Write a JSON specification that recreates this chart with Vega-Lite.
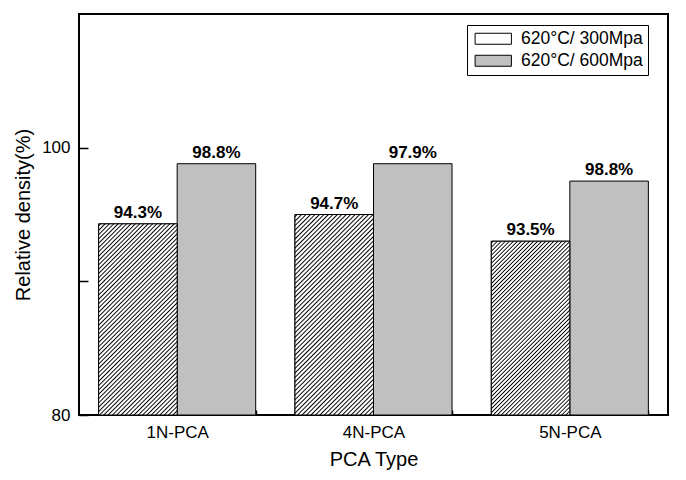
{
  "$schema": "https://vega.github.io/schema/vega-lite/v6.json",
  "autosize": {"type": "none"},
  "width": 589,
  "height": 401,
  "padding": {"left": 79, "top": 14, "right": 18, "bottom": 65},
  "background": "white",
  "data": {
    "values": [
      {"type": "1N-PCA", "condition": "620°C/ 300Mpa", "density": 94.3, "label": "94.3%"},
      {"type": "1N-PCA", "condition": "620°C/ 600Mpa", "density": 98.8, "label": "98.8%"},
      {"type": "4N-PCA", "condition": "620°C/ 300Mpa", "density": 95.0, "label": "94.7%"},
      {"type": "4N-PCA", "condition": "620°C/ 600Mpa", "density": 98.8, "label": "97.9%"},
      {"type": "5N-PCA", "condition": "620°C/ 300Mpa", "density": 93.0, "label": "93.5%"},
      {"type": "5N-PCA", "condition": "620°C/ 600Mpa", "density": 97.5, "label": "98.8%"}
    ]
  },
  "encoding": {
    "x": {
      "field": "type", "type": "nominal", "sort": null,
      "scale": {"paddingInner": 0.2, "paddingOuter": 0.1},
      "axis": {
        "title": "PCA Type", "labelAngle": 0, "tickBand": "extent",
        "tickSize": -5, "tickWidth": 1.5, "labelPadding": 14,
        "labelFontSize": 17, "titleFontSize": 20, "titlePadding": 9
      }
    },
    "xOffset": {"field": "condition", "type": "nominal", "sort": null, "scale": {"domain": ["620°C/ 300Mpa", "620°C/ 600Mpa"]}},
    "y": {
      "field": "density", "type": "quantitative",
      "scale": {"domain": [80, 110], "zero": false, "nice": false},
      "axis": {
        "title": "Relative density(%)",
        "values": [80, 90, 100],
        "labelExpr": "datum.value == 90 ? '' : datum.label",
        "tickSize": -9,
        "tickWidth": 1.5,
        "labelPadding": 18,
        "labelFontSize": 17, "titleFontSize": 20, "titlePadding": 8
      }
    }
  },
  "layer": [
    {
      "mark": {"type": "bar", "stroke": "black", "strokeWidth": 1, "clip": true},
      "encoding": {
        "y2": {"datum": 80},
        "fill": {
          "field": "condition", "type": "nominal", "sort": null,
          "scale": {
            "domain": ["620°C/ 300Mpa", "620°C/ 600Mpa"],
            "range": ["#ffffff", "#c0c0c0"]
          },
          "legend": {
            "title": null,
            "orient": "none",
            "legendX": 388,
            "legendY": 11,
            "strokeColor": "black",
            "padding": 5,
            "fillColor": "white",
            "labelFontSize": 17.5,
            "labelFont": "Liberation Sans",
            "labelColor": "black",
            "symbolOffset": 12.5,
            "labelOffset": 19,
            "rowPadding": 3,
            "symbolType": "M-3.3,-1H3.3V1H-3.3Z",
            "symbolSize": 121,
            "symbolStrokeColor": "black",
            "symbolStrokeWidth": 1,
            "symbolOpacity": 1,
            "encode": {
              "symbols": {
                "update": {
                  "stroke": {"value": "black"},
                  "strokeWidth": {"value": 1},
                  "opacity": {"value": 1},
                  "fillOpacity": {"value": 1}
                }
              }
            }
          }
        }
      }
    },
    {
      "transform": [{"filter": "datum.condition === '620°C/ 300Mpa' && datum.type === '1N-PCA'"}],
      "mark": {"type": "bar", "stroke": "black", "strokeWidth": 1, "clip": true,
        "fill": {"gradient": "linear", "x1": 0, "y1": 0, "x2": 0.4959, "y2": 1.2071, "stops": [
                {"offset": 0, "color": "#fff"},
                {"offset": 0.003, "color": "#fff"},{"offset": 0.008, "color": "#000"},{"offset": 0.013, "color": "#fff"},
                {"offset": 0.019, "color": "#fff"},{"offset": 0.024, "color": "#000"},{"offset": 0.029, "color": "#fff"},
                {"offset": 0.035, "color": "#fff"},{"offset": 0.04, "color": "#000"},{"offset": 0.045, "color": "#fff"},
                {"offset": 0.051, "color": "#fff"},{"offset": 0.056, "color": "#000"},{"offset": 0.061, "color": "#fff"},
                {"offset": 0.067, "color": "#fff"},{"offset": 0.072, "color": "#000"},{"offset": 0.077, "color": "#fff"},
                {"offset": 0.083, "color": "#fff"},{"offset": 0.088, "color": "#000"},{"offset": 0.093, "color": "#fff"},
                {"offset": 0.099, "color": "#fff"},{"offset": 0.104, "color": "#000"},{"offset": 0.109, "color": "#fff"},
                {"offset": 0.115, "color": "#fff"},{"offset": 0.12, "color": "#000"},{"offset": 0.125, "color": "#fff"},
                {"offset": 0.131, "color": "#fff"},{"offset": 0.136, "color": "#000"},{"offset": 0.141, "color": "#fff"},
                {"offset": 0.147, "color": "#fff"},{"offset": 0.152, "color": "#000"},{"offset": 0.157, "color": "#fff"},
                {"offset": 0.163, "color": "#fff"},{"offset": 0.168, "color": "#000"},{"offset": 0.173, "color": "#fff"},
                {"offset": 0.179, "color": "#fff"},{"offset": 0.184, "color": "#000"},{"offset": 0.189, "color": "#fff"},
                {"offset": 0.195, "color": "#fff"},{"offset": 0.2, "color": "#000"},{"offset": 0.205, "color": "#fff"},
                {"offset": 0.211, "color": "#fff"},{"offset": 0.216, "color": "#000"},{"offset": 0.221, "color": "#fff"},
                {"offset": 0.227, "color": "#fff"},{"offset": 0.232, "color": "#000"},{"offset": 0.237, "color": "#fff"},
                {"offset": 0.243, "color": "#fff"},{"offset": 0.248, "color": "#000"},{"offset": 0.253, "color": "#fff"},
                {"offset": 0.259, "color": "#fff"},{"offset": 0.264, "color": "#000"},{"offset": 0.269, "color": "#fff"},
                {"offset": 0.275, "color": "#fff"},{"offset": 0.28, "color": "#000"},{"offset": 0.285, "color": "#fff"},
                {"offset": 0.291, "color": "#fff"},{"offset": 0.296, "color": "#000"},{"offset": 0.301, "color": "#fff"},
                {"offset": 0.307, "color": "#fff"},{"offset": 0.312, "color": "#000"},{"offset": 0.317, "color": "#fff"},
                {"offset": 0.323, "color": "#fff"},{"offset": 0.328, "color": "#000"},{"offset": 0.333, "color": "#fff"},
                {"offset": 0.339, "color": "#fff"},{"offset": 0.344, "color": "#000"},{"offset": 0.349, "color": "#fff"},
                {"offset": 0.355, "color": "#fff"},{"offset": 0.36, "color": "#000"},{"offset": 0.365, "color": "#fff"},
                {"offset": 0.371, "color": "#fff"},{"offset": 0.376, "color": "#000"},{"offset": 0.381, "color": "#fff"},
                {"offset": 0.387, "color": "#fff"},{"offset": 0.392, "color": "#000"},{"offset": 0.397, "color": "#fff"},
                {"offset": 0.403, "color": "#fff"},{"offset": 0.408, "color": "#000"},{"offset": 0.413, "color": "#fff"},
                {"offset": 0.419, "color": "#fff"},{"offset": 0.424, "color": "#000"},{"offset": 0.429, "color": "#fff"},
                {"offset": 0.435, "color": "#fff"},{"offset": 0.44, "color": "#000"},{"offset": 0.445, "color": "#fff"},
                {"offset": 0.451, "color": "#fff"},{"offset": 0.456, "color": "#000"},{"offset": 0.461, "color": "#fff"},
                {"offset": 0.467, "color": "#fff"},{"offset": 0.472, "color": "#000"},{"offset": 0.477, "color": "#fff"},
                {"offset": 0.483, "color": "#fff"},{"offset": 0.488, "color": "#000"},{"offset": 0.493, "color": "#fff"},
                {"offset": 0.499, "color": "#fff"},{"offset": 0.504, "color": "#000"},{"offset": 0.509, "color": "#fff"},
                {"offset": 0.515, "color": "#fff"},{"offset": 0.52, "color": "#000"},{"offset": 0.525, "color": "#fff"},
                {"offset": 0.531, "color": "#fff"},{"offset": 0.536, "color": "#000"},{"offset": 0.541, "color": "#fff"},
                {"offset": 0.547, "color": "#fff"},{"offset": 0.552, "color": "#000"},{"offset": 0.557, "color": "#fff"},
                {"offset": 0.563, "color": "#fff"},{"offset": 0.568, "color": "#000"},{"offset": 0.573, "color": "#fff"},
                {"offset": 0.579, "color": "#fff"},{"offset": 0.584, "color": "#000"},{"offset": 0.589, "color": "#fff"},
                {"offset": 0.595, "color": "#fff"},{"offset": 0.6, "color": "#000"},{"offset": 0.605, "color": "#fff"},
                {"offset": 0.611, "color": "#fff"},{"offset": 0.616, "color": "#000"},{"offset": 0.621, "color": "#fff"},
                {"offset": 0.627, "color": "#fff"},{"offset": 0.632, "color": "#000"},{"offset": 0.637, "color": "#fff"},
                {"offset": 0.643, "color": "#fff"},{"offset": 0.648, "color": "#000"},{"offset": 0.653, "color": "#fff"},
                {"offset": 0.659, "color": "#fff"},{"offset": 0.664, "color": "#000"},{"offset": 0.669, "color": "#fff"},
                {"offset": 0.675, "color": "#fff"},{"offset": 0.68, "color": "#000"},{"offset": 0.685, "color": "#fff"},
                {"offset": 0.691, "color": "#fff"},{"offset": 0.696, "color": "#000"},{"offset": 0.701, "color": "#fff"},
                {"offset": 0.707, "color": "#fff"},{"offset": 0.712, "color": "#000"},{"offset": 0.717, "color": "#fff"},
                {"offset": 0.723, "color": "#fff"},{"offset": 0.728, "color": "#000"},{"offset": 0.733, "color": "#fff"},
                {"offset": 0.739, "color": "#fff"},{"offset": 0.744, "color": "#000"},{"offset": 0.749, "color": "#fff"},
                {"offset": 0.755, "color": "#fff"},{"offset": 0.76, "color": "#000"},{"offset": 0.765, "color": "#fff"},
                {"offset": 0.771, "color": "#fff"},{"offset": 0.776, "color": "#000"},{"offset": 0.781, "color": "#fff"},
                {"offset": 0.787, "color": "#fff"},{"offset": 0.792, "color": "#000"},{"offset": 0.797, "color": "#fff"},
                {"offset": 0.803, "color": "#fff"},{"offset": 0.808, "color": "#000"},{"offset": 0.813, "color": "#fff"},
                {"offset": 0.819, "color": "#fff"},{"offset": 0.824, "color": "#000"},{"offset": 0.829, "color": "#fff"},
                {"offset": 0.835, "color": "#fff"},{"offset": 0.84, "color": "#000"},{"offset": 0.845, "color": "#fff"},
                {"offset": 0.851, "color": "#fff"},{"offset": 0.856, "color": "#000"},{"offset": 0.861, "color": "#fff"},
                {"offset": 0.867, "color": "#fff"},{"offset": 0.872, "color": "#000"},{"offset": 0.877, "color": "#fff"},
                {"offset": 0.883, "color": "#fff"},{"offset": 0.888, "color": "#000"},{"offset": 0.893, "color": "#fff"},
                {"offset": 0.899, "color": "#fff"},{"offset": 0.904, "color": "#000"},{"offset": 0.909, "color": "#fff"},
                {"offset": 0.915, "color": "#fff"},{"offset": 0.92, "color": "#000"},{"offset": 0.925, "color": "#fff"},
                {"offset": 0.931, "color": "#fff"},{"offset": 0.936, "color": "#000"},{"offset": 0.941, "color": "#fff"},
                {"offset": 0.947, "color": "#fff"},{"offset": 0.952, "color": "#000"},{"offset": 0.957, "color": "#fff"},
                {"offset": 0.963, "color": "#fff"},{"offset": 0.968, "color": "#000"},{"offset": 0.973, "color": "#fff"},
                {"offset": 0.979, "color": "#fff"},{"offset": 0.984, "color": "#000"},{"offset": 0.989, "color": "#fff"},
                {"offset": 1, "color": "#fff"}
        ]}
      },
      "encoding": {"y2": {"datum": 80}}
    },
    {
      "transform": [{"filter": "datum.condition === '620°C/ 300Mpa' && datum.type === '4N-PCA'"}],
      "mark": {"type": "bar", "stroke": "black", "strokeWidth": 1, "clip": true,
        "fill": {"gradient": "linear", "x1": 0, "y1": 0, "x2": 0.4724, "y2": 1.2066, "stops": [
                {"offset": 0, "color": "#fff"},
                {"offset": 0.003, "color": "#fff"},{"offset": 0.008, "color": "#000"},{"offset": 0.013, "color": "#fff"},
                {"offset": 0.019, "color": "#fff"},{"offset": 0.024, "color": "#000"},{"offset": 0.029, "color": "#fff"},
                {"offset": 0.035, "color": "#fff"},{"offset": 0.04, "color": "#000"},{"offset": 0.045, "color": "#fff"},
                {"offset": 0.051, "color": "#fff"},{"offset": 0.056, "color": "#000"},{"offset": 0.061, "color": "#fff"},
                {"offset": 0.067, "color": "#fff"},{"offset": 0.072, "color": "#000"},{"offset": 0.077, "color": "#fff"},
                {"offset": 0.083, "color": "#fff"},{"offset": 0.088, "color": "#000"},{"offset": 0.093, "color": "#fff"},
                {"offset": 0.099, "color": "#fff"},{"offset": 0.104, "color": "#000"},{"offset": 0.109, "color": "#fff"},
                {"offset": 0.115, "color": "#fff"},{"offset": 0.12, "color": "#000"},{"offset": 0.125, "color": "#fff"},
                {"offset": 0.131, "color": "#fff"},{"offset": 0.136, "color": "#000"},{"offset": 0.141, "color": "#fff"},
                {"offset": 0.147, "color": "#fff"},{"offset": 0.152, "color": "#000"},{"offset": 0.157, "color": "#fff"},
                {"offset": 0.163, "color": "#fff"},{"offset": 0.168, "color": "#000"},{"offset": 0.173, "color": "#fff"},
                {"offset": 0.179, "color": "#fff"},{"offset": 0.184, "color": "#000"},{"offset": 0.189, "color": "#fff"},
                {"offset": 0.195, "color": "#fff"},{"offset": 0.2, "color": "#000"},{"offset": 0.205, "color": "#fff"},
                {"offset": 0.211, "color": "#fff"},{"offset": 0.216, "color": "#000"},{"offset": 0.221, "color": "#fff"},
                {"offset": 0.227, "color": "#fff"},{"offset": 0.232, "color": "#000"},{"offset": 0.237, "color": "#fff"},
                {"offset": 0.243, "color": "#fff"},{"offset": 0.248, "color": "#000"},{"offset": 0.253, "color": "#fff"},
                {"offset": 0.259, "color": "#fff"},{"offset": 0.264, "color": "#000"},{"offset": 0.269, "color": "#fff"},
                {"offset": 0.275, "color": "#fff"},{"offset": 0.28, "color": "#000"},{"offset": 0.285, "color": "#fff"},
                {"offset": 0.291, "color": "#fff"},{"offset": 0.296, "color": "#000"},{"offset": 0.301, "color": "#fff"},
                {"offset": 0.307, "color": "#fff"},{"offset": 0.312, "color": "#000"},{"offset": 0.317, "color": "#fff"},
                {"offset": 0.323, "color": "#fff"},{"offset": 0.328, "color": "#000"},{"offset": 0.333, "color": "#fff"},
                {"offset": 0.339, "color": "#fff"},{"offset": 0.344, "color": "#000"},{"offset": 0.349, "color": "#fff"},
                {"offset": 0.355, "color": "#fff"},{"offset": 0.36, "color": "#000"},{"offset": 0.365, "color": "#fff"},
                {"offset": 0.371, "color": "#fff"},{"offset": 0.376, "color": "#000"},{"offset": 0.381, "color": "#fff"},
                {"offset": 0.387, "color": "#fff"},{"offset": 0.392, "color": "#000"},{"offset": 0.397, "color": "#fff"},
                {"offset": 0.403, "color": "#fff"},{"offset": 0.408, "color": "#000"},{"offset": 0.413, "color": "#fff"},
                {"offset": 0.419, "color": "#fff"},{"offset": 0.424, "color": "#000"},{"offset": 0.429, "color": "#fff"},
                {"offset": 0.435, "color": "#fff"},{"offset": 0.44, "color": "#000"},{"offset": 0.445, "color": "#fff"},
                {"offset": 0.451, "color": "#fff"},{"offset": 0.456, "color": "#000"},{"offset": 0.461, "color": "#fff"},
                {"offset": 0.467, "color": "#fff"},{"offset": 0.472, "color": "#000"},{"offset": 0.477, "color": "#fff"},
                {"offset": 0.483, "color": "#fff"},{"offset": 0.488, "color": "#000"},{"offset": 0.493, "color": "#fff"},
                {"offset": 0.499, "color": "#fff"},{"offset": 0.504, "color": "#000"},{"offset": 0.509, "color": "#fff"},
                {"offset": 0.515, "color": "#fff"},{"offset": 0.52, "color": "#000"},{"offset": 0.525, "color": "#fff"},
                {"offset": 0.531, "color": "#fff"},{"offset": 0.536, "color": "#000"},{"offset": 0.541, "color": "#fff"},
                {"offset": 0.547, "color": "#fff"},{"offset": 0.552, "color": "#000"},{"offset": 0.557, "color": "#fff"},
                {"offset": 0.563, "color": "#fff"},{"offset": 0.568, "color": "#000"},{"offset": 0.573, "color": "#fff"},
                {"offset": 0.579, "color": "#fff"},{"offset": 0.584, "color": "#000"},{"offset": 0.589, "color": "#fff"},
                {"offset": 0.595, "color": "#fff"},{"offset": 0.6, "color": "#000"},{"offset": 0.605, "color": "#fff"},
                {"offset": 0.611, "color": "#fff"},{"offset": 0.616, "color": "#000"},{"offset": 0.621, "color": "#fff"},
                {"offset": 0.627, "color": "#fff"},{"offset": 0.632, "color": "#000"},{"offset": 0.637, "color": "#fff"},
                {"offset": 0.643, "color": "#fff"},{"offset": 0.648, "color": "#000"},{"offset": 0.653, "color": "#fff"},
                {"offset": 0.659, "color": "#fff"},{"offset": 0.664, "color": "#000"},{"offset": 0.669, "color": "#fff"},
                {"offset": 0.675, "color": "#fff"},{"offset": 0.68, "color": "#000"},{"offset": 0.685, "color": "#fff"},
                {"offset": 0.691, "color": "#fff"},{"offset": 0.696, "color": "#000"},{"offset": 0.701, "color": "#fff"},
                {"offset": 0.707, "color": "#fff"},{"offset": 0.712, "color": "#000"},{"offset": 0.717, "color": "#fff"},
                {"offset": 0.723, "color": "#fff"},{"offset": 0.728, "color": "#000"},{"offset": 0.733, "color": "#fff"},
                {"offset": 0.739, "color": "#fff"},{"offset": 0.744, "color": "#000"},{"offset": 0.749, "color": "#fff"},
                {"offset": 0.755, "color": "#fff"},{"offset": 0.76, "color": "#000"},{"offset": 0.765, "color": "#fff"},
                {"offset": 0.771, "color": "#fff"},{"offset": 0.776, "color": "#000"},{"offset": 0.781, "color": "#fff"},
                {"offset": 0.787, "color": "#fff"},{"offset": 0.792, "color": "#000"},{"offset": 0.797, "color": "#fff"},
                {"offset": 0.803, "color": "#fff"},{"offset": 0.808, "color": "#000"},{"offset": 0.813, "color": "#fff"},
                {"offset": 0.819, "color": "#fff"},{"offset": 0.824, "color": "#000"},{"offset": 0.829, "color": "#fff"},
                {"offset": 0.835, "color": "#fff"},{"offset": 0.84, "color": "#000"},{"offset": 0.845, "color": "#fff"},
                {"offset": 0.851, "color": "#fff"},{"offset": 0.856, "color": "#000"},{"offset": 0.861, "color": "#fff"},
                {"offset": 0.867, "color": "#fff"},{"offset": 0.872, "color": "#000"},{"offset": 0.877, "color": "#fff"},
                {"offset": 0.883, "color": "#fff"},{"offset": 0.888, "color": "#000"},{"offset": 0.893, "color": "#fff"},
                {"offset": 0.899, "color": "#fff"},{"offset": 0.904, "color": "#000"},{"offset": 0.909, "color": "#fff"},
                {"offset": 0.915, "color": "#fff"},{"offset": 0.92, "color": "#000"},{"offset": 0.925, "color": "#fff"},
                {"offset": 0.931, "color": "#fff"},{"offset": 0.936, "color": "#000"},{"offset": 0.941, "color": "#fff"},
                {"offset": 0.947, "color": "#fff"},{"offset": 0.952, "color": "#000"},{"offset": 0.957, "color": "#fff"},
                {"offset": 0.963, "color": "#fff"},{"offset": 0.968, "color": "#000"},{"offset": 0.973, "color": "#fff"},
                {"offset": 0.979, "color": "#fff"},{"offset": 0.984, "color": "#000"},{"offset": 0.989, "color": "#fff"},
                {"offset": 1, "color": "#fff"}
        ]}
      },
      "encoding": {"y2": {"datum": 80}}
    },
    {
      "transform": [{"filter": "datum.condition === '620°C/ 300Mpa' && datum.type === '5N-PCA'"}],
      "mark": {"type": "bar", "stroke": "black", "strokeWidth": 1, "clip": true,
        "fill": {"gradient": "linear", "x1": 0, "y1": 0, "x2": 0.5446, "y2": 1.2057, "stops": [
                {"offset": 0, "color": "#fff"},
                {"offset": 0.003, "color": "#fff"},{"offset": 0.008, "color": "#000"},{"offset": 0.013, "color": "#fff"},
                {"offset": 0.019, "color": "#fff"},{"offset": 0.024, "color": "#000"},{"offset": 0.029, "color": "#fff"},
                {"offset": 0.035, "color": "#fff"},{"offset": 0.04, "color": "#000"},{"offset": 0.045, "color": "#fff"},
                {"offset": 0.051, "color": "#fff"},{"offset": 0.056, "color": "#000"},{"offset": 0.061, "color": "#fff"},
                {"offset": 0.067, "color": "#fff"},{"offset": 0.072, "color": "#000"},{"offset": 0.077, "color": "#fff"},
                {"offset": 0.083, "color": "#fff"},{"offset": 0.088, "color": "#000"},{"offset": 0.093, "color": "#fff"},
                {"offset": 0.099, "color": "#fff"},{"offset": 0.104, "color": "#000"},{"offset": 0.109, "color": "#fff"},
                {"offset": 0.115, "color": "#fff"},{"offset": 0.12, "color": "#000"},{"offset": 0.125, "color": "#fff"},
                {"offset": 0.131, "color": "#fff"},{"offset": 0.136, "color": "#000"},{"offset": 0.141, "color": "#fff"},
                {"offset": 0.147, "color": "#fff"},{"offset": 0.152, "color": "#000"},{"offset": 0.157, "color": "#fff"},
                {"offset": 0.163, "color": "#fff"},{"offset": 0.168, "color": "#000"},{"offset": 0.173, "color": "#fff"},
                {"offset": 0.179, "color": "#fff"},{"offset": 0.184, "color": "#000"},{"offset": 0.189, "color": "#fff"},
                {"offset": 0.195, "color": "#fff"},{"offset": 0.2, "color": "#000"},{"offset": 0.205, "color": "#fff"},
                {"offset": 0.211, "color": "#fff"},{"offset": 0.216, "color": "#000"},{"offset": 0.221, "color": "#fff"},
                {"offset": 0.227, "color": "#fff"},{"offset": 0.232, "color": "#000"},{"offset": 0.237, "color": "#fff"},
                {"offset": 0.243, "color": "#fff"},{"offset": 0.248, "color": "#000"},{"offset": 0.253, "color": "#fff"},
                {"offset": 0.259, "color": "#fff"},{"offset": 0.264, "color": "#000"},{"offset": 0.269, "color": "#fff"},
                {"offset": 0.275, "color": "#fff"},{"offset": 0.28, "color": "#000"},{"offset": 0.285, "color": "#fff"},
                {"offset": 0.291, "color": "#fff"},{"offset": 0.296, "color": "#000"},{"offset": 0.301, "color": "#fff"},
                {"offset": 0.307, "color": "#fff"},{"offset": 0.312, "color": "#000"},{"offset": 0.317, "color": "#fff"},
                {"offset": 0.323, "color": "#fff"},{"offset": 0.328, "color": "#000"},{"offset": 0.333, "color": "#fff"},
                {"offset": 0.339, "color": "#fff"},{"offset": 0.344, "color": "#000"},{"offset": 0.349, "color": "#fff"},
                {"offset": 0.355, "color": "#fff"},{"offset": 0.36, "color": "#000"},{"offset": 0.365, "color": "#fff"},
                {"offset": 0.371, "color": "#fff"},{"offset": 0.376, "color": "#000"},{"offset": 0.381, "color": "#fff"},
                {"offset": 0.387, "color": "#fff"},{"offset": 0.392, "color": "#000"},{"offset": 0.397, "color": "#fff"},
                {"offset": 0.403, "color": "#fff"},{"offset": 0.408, "color": "#000"},{"offset": 0.413, "color": "#fff"},
                {"offset": 0.419, "color": "#fff"},{"offset": 0.424, "color": "#000"},{"offset": 0.429, "color": "#fff"},
                {"offset": 0.435, "color": "#fff"},{"offset": 0.44, "color": "#000"},{"offset": 0.445, "color": "#fff"},
                {"offset": 0.451, "color": "#fff"},{"offset": 0.456, "color": "#000"},{"offset": 0.461, "color": "#fff"},
                {"offset": 0.467, "color": "#fff"},{"offset": 0.472, "color": "#000"},{"offset": 0.477, "color": "#fff"},
                {"offset": 0.483, "color": "#fff"},{"offset": 0.488, "color": "#000"},{"offset": 0.493, "color": "#fff"},
                {"offset": 0.499, "color": "#fff"},{"offset": 0.504, "color": "#000"},{"offset": 0.509, "color": "#fff"},
                {"offset": 0.515, "color": "#fff"},{"offset": 0.52, "color": "#000"},{"offset": 0.525, "color": "#fff"},
                {"offset": 0.531, "color": "#fff"},{"offset": 0.536, "color": "#000"},{"offset": 0.541, "color": "#fff"},
                {"offset": 0.547, "color": "#fff"},{"offset": 0.552, "color": "#000"},{"offset": 0.557, "color": "#fff"},
                {"offset": 0.563, "color": "#fff"},{"offset": 0.568, "color": "#000"},{"offset": 0.573, "color": "#fff"},
                {"offset": 0.579, "color": "#fff"},{"offset": 0.584, "color": "#000"},{"offset": 0.589, "color": "#fff"},
                {"offset": 0.595, "color": "#fff"},{"offset": 0.6, "color": "#000"},{"offset": 0.605, "color": "#fff"},
                {"offset": 0.611, "color": "#fff"},{"offset": 0.616, "color": "#000"},{"offset": 0.621, "color": "#fff"},
                {"offset": 0.627, "color": "#fff"},{"offset": 0.632, "color": "#000"},{"offset": 0.637, "color": "#fff"},
                {"offset": 0.643, "color": "#fff"},{"offset": 0.648, "color": "#000"},{"offset": 0.653, "color": "#fff"},
                {"offset": 0.659, "color": "#fff"},{"offset": 0.664, "color": "#000"},{"offset": 0.669, "color": "#fff"},
                {"offset": 0.675, "color": "#fff"},{"offset": 0.68, "color": "#000"},{"offset": 0.685, "color": "#fff"},
                {"offset": 0.691, "color": "#fff"},{"offset": 0.696, "color": "#000"},{"offset": 0.701, "color": "#fff"},
                {"offset": 0.707, "color": "#fff"},{"offset": 0.712, "color": "#000"},{"offset": 0.717, "color": "#fff"},
                {"offset": 0.723, "color": "#fff"},{"offset": 0.728, "color": "#000"},{"offset": 0.733, "color": "#fff"},
                {"offset": 0.739, "color": "#fff"},{"offset": 0.744, "color": "#000"},{"offset": 0.749, "color": "#fff"},
                {"offset": 0.755, "color": "#fff"},{"offset": 0.76, "color": "#000"},{"offset": 0.765, "color": "#fff"},
                {"offset": 0.771, "color": "#fff"},{"offset": 0.776, "color": "#000"},{"offset": 0.781, "color": "#fff"},
                {"offset": 0.787, "color": "#fff"},{"offset": 0.792, "color": "#000"},{"offset": 0.797, "color": "#fff"},
                {"offset": 0.803, "color": "#fff"},{"offset": 0.808, "color": "#000"},{"offset": 0.813, "color": "#fff"},
                {"offset": 0.819, "color": "#fff"},{"offset": 0.824, "color": "#000"},{"offset": 0.829, "color": "#fff"},
                {"offset": 0.835, "color": "#fff"},{"offset": 0.84, "color": "#000"},{"offset": 0.845, "color": "#fff"},
                {"offset": 0.851, "color": "#fff"},{"offset": 0.856, "color": "#000"},{"offset": 0.861, "color": "#fff"},
                {"offset": 0.867, "color": "#fff"},{"offset": 0.872, "color": "#000"},{"offset": 0.877, "color": "#fff"},
                {"offset": 0.883, "color": "#fff"},{"offset": 0.888, "color": "#000"},{"offset": 0.893, "color": "#fff"},
                {"offset": 0.899, "color": "#fff"},{"offset": 0.904, "color": "#000"},{"offset": 0.909, "color": "#fff"},
                {"offset": 0.915, "color": "#fff"},{"offset": 0.92, "color": "#000"},{"offset": 0.925, "color": "#fff"},
                {"offset": 0.931, "color": "#fff"},{"offset": 0.936, "color": "#000"},{"offset": 0.941, "color": "#fff"},
                {"offset": 0.947, "color": "#fff"},{"offset": 0.952, "color": "#000"},{"offset": 0.957, "color": "#fff"},
                {"offset": 0.963, "color": "#fff"},{"offset": 0.968, "color": "#000"},{"offset": 0.973, "color": "#fff"},
                {"offset": 0.979, "color": "#fff"},{"offset": 0.984, "color": "#000"},{"offset": 0.989, "color": "#fff"},
                {"offset": 1, "color": "#fff"}
        ]}
      },
      "encoding": {"y2": {"datum": 80}}
    },
    {
      "mark": {"type": "text", "font": "Liberation Sans", "fontSize": 17, "fontWeight": "bold", "baseline": "alphabetic", "dy": -6, "color": "black"},
      "encoding": {"text": {"field": "label", "type": "nominal"}}
    }
  ],
  "config": {
    "font": "Liberation Sans",
    "view": {"stroke": "black", "strokeWidth": 2},
    "axis": {
      "domain": false,
      "grid": false,
      "tickColor": "black",
      "labelColor": "black",
      "titleColor": "black",
      "labelFont": "Liberation Sans",
      "titleFont": "Liberation Sans",
      "titleFontWeight": "normal"
    }
  }
}
